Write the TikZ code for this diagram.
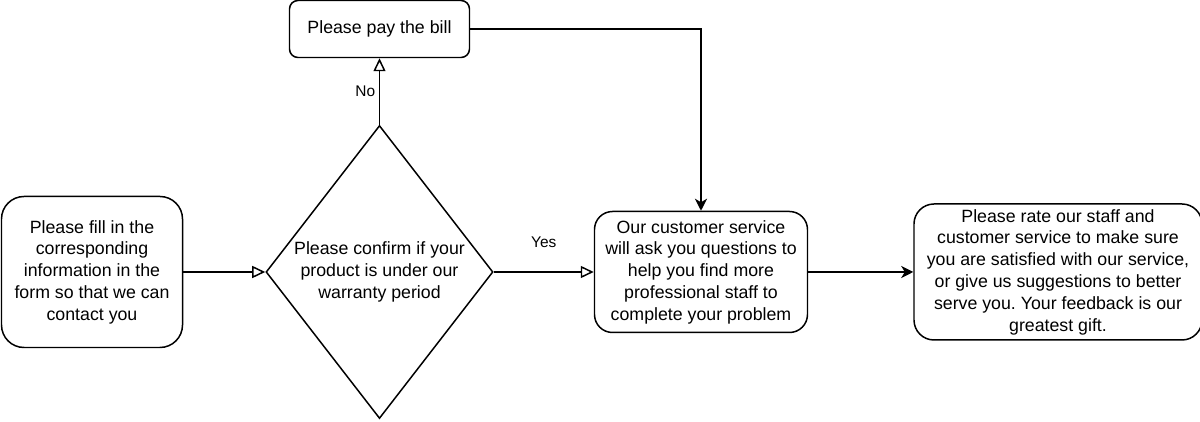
\documentclass[tikz,border=0pt]{standalone}
\usepackage{fontspec}
\setmainfont{Liberation Sans}
\usetikzlibrary{positioning, quotes, arrows.meta, shapes.geometric}
\frenchspacing
\tikzset{
every node/.style = {font = \fontsize{10.1}{12.4}\selectfont},
every edge quotes/.style = {font = \fontsize{8.8}{10.5}\selectfont, inner sep = 2pt},
process/.style = {rectangle, draw, line width = 0.85pt, inner sep = 1pt,
   align = center},
decision/.style = {diamond, draw, line width = 0.85pt, inner sep = 0pt,
   aspect = 0.775, minimum width = 4.54cm, minimum height = 5.86cm, align = center},
flow/.style = {-{Stealth[length = 2.4mm, width = 2.4mm, inset = 0.7mm]},
   line width = 0.85pt},
choice/.style = {-{Triangle[open, length = 2.6mm, width = 2.4mm]},
   line width = 0.85pt}
}
\begin{document}
\begin{tikzpicture}
\useasboundingbox (0,-3.0) rectangle (24,5.44);

%% Steps of the main row
\node [process, minimum width = 3.62cm, minimum height = 3.02cm, rounded corners = 0.45cm]
   (form) at (1.84,0) {Please fill in the\\corresponding\\information in the\\form so that we can\\contact you};
\node [decision] (check) [right = 1.64cm of form]
   {Please confirm if your\\product is under our\\warranty period};
\node [process, minimum width = 4.26cm, minimum height = 2.42cm, rounded corners = 0.36cm]
   (service) [right = 2cm of check] {Our customer service\\will ask you questions to\\help you find more\\professional staff to\\complete your problem};
\node [process, minimum width = 5.76cm, minimum height = 2.72cm, rounded corners = 0.4cm]
   (rate) [right = 2.1cm of service] {Please rate our staff and\\customer service to make sure\\you are satisfied with our service,\\or give us suggestions to better\\serve you. Your feedback is our\\greatest gift.};

%% Step when out of warranty
\node [process, minimum width = 3.6cm, minimum height = 1.14cm, rounded corners = 0.17cm]
   (bill) [above = 1.33cm of check] {Please pay the bill};

%% Connectors
\path [choice] (form) edge (check);
\path [choice] (check) edge ["No" left] (bill);
\path [choice] (check) edge ["Yes" {above = 0.41cm}] (service);
\draw [flow] (bill.east) -| (service.north);
\path [flow] (service) edge (rate);

\end{tikzpicture}
\end{document}
